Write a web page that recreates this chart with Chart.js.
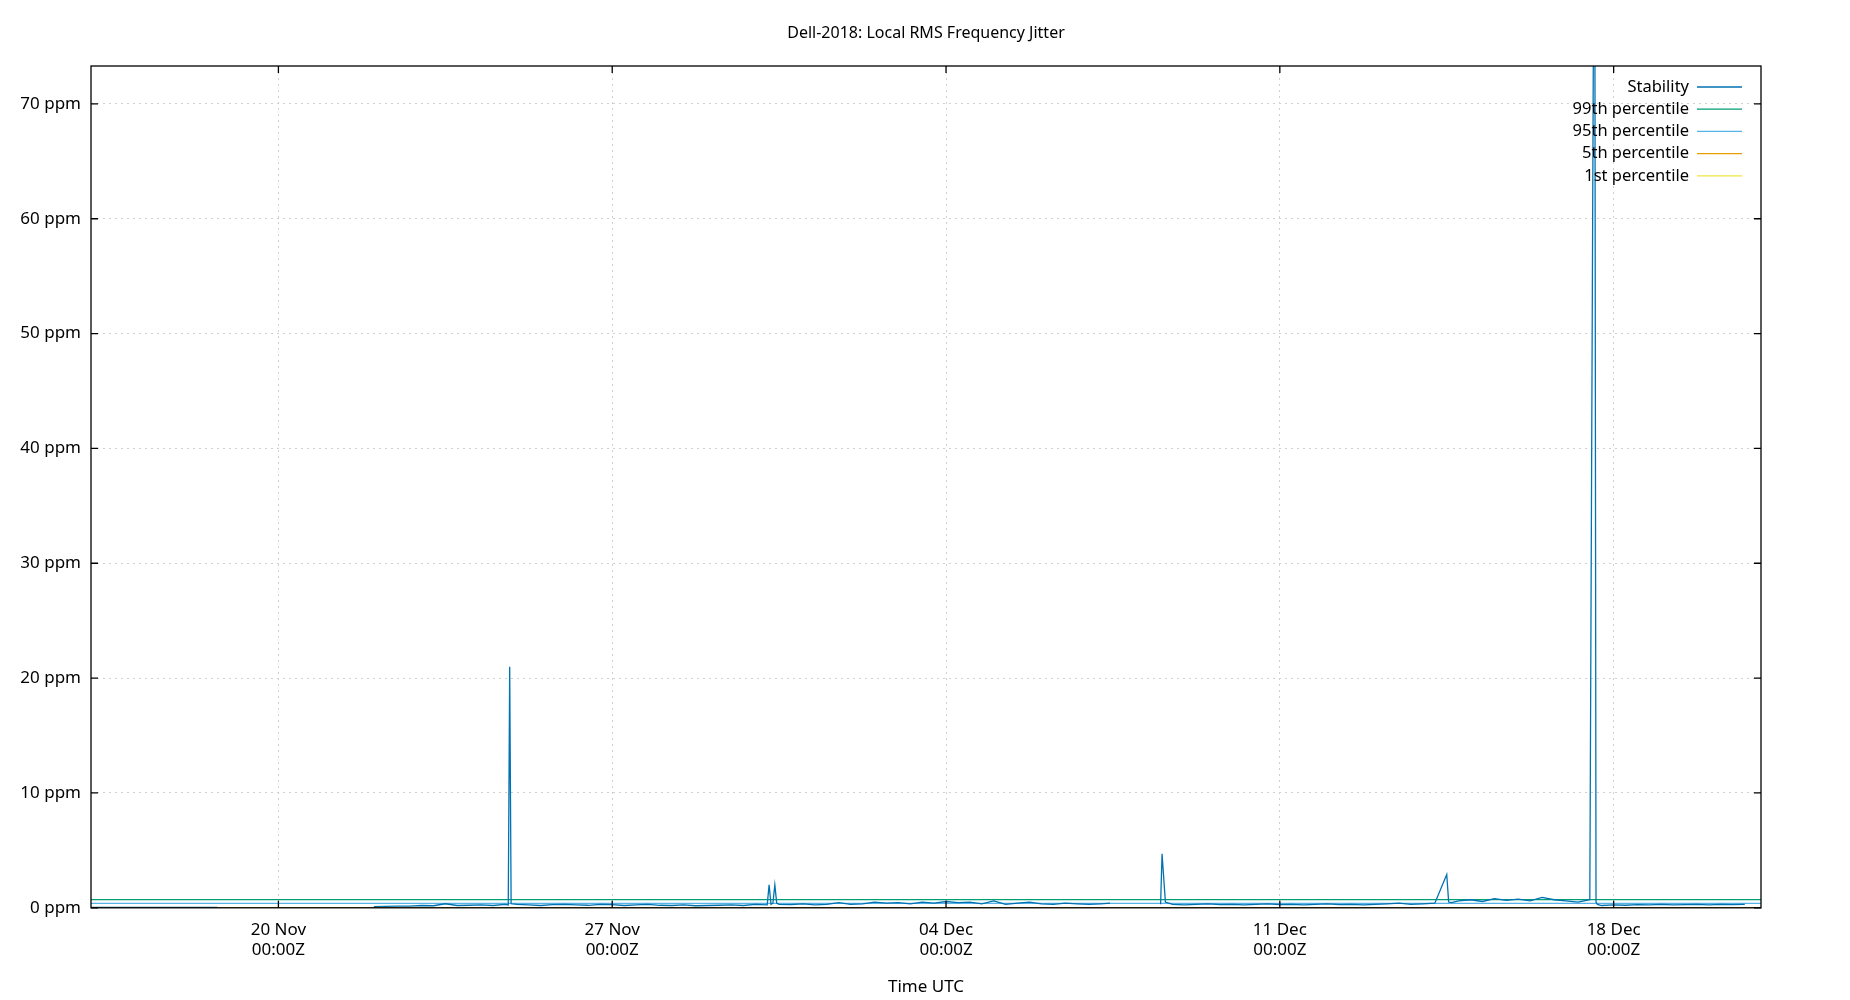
<!DOCTYPE html>
<html><head><meta charset="utf-8">
<script src="https://cdn.jsdelivr.net/npm/chart.js@4"></script>
<style>html,body{margin:0;padding:0;background:#fff}#w{width:1850px;height:1000px}</style>
</head><body><div id="w"><canvas id="c"></canvas></div>
<script>
// x = day number where 1 Nov 00:00Z = 0
const titleText = 'Dell-2018: Local RMS Frequency Jitter';
const tickDays = [19, 26, 33, 40, 47];
const tickLabels = [["20 Nov","00:00Z"],["27 Nov","00:00Z"],["04 Dec","00:00Z"],["11 Dec","00:00Z"],["18 Dec","00:00Z"]];
const yTicks = [0,10,20,30,40,50,60,70];
const stabX = [15.07,15.5,16,16.5,17,17.5,17.72,17.75,
 20.95,21.0,21.25,21.5,21.75,22,22.25,22.5,22.75,23,23.25,23.5,23.75,23.82,23.85,23.88,24,24.25,24.5,24.75,25,25.25,25.5,25.75,26,26.25,26.5,26.75,27,27.25,27.5,27.75,28,28.25,28.5,28.75,29,29.25,29.29,29.33,29.37,29.41,29.45,29.5,29.75,30,30.25,30.5,30.75,31,31.25,31.5,31.75,32,32.25,32.5,32.75,33,33.25,33.5,33.75,34,34.25,34.5,34.75,35,35.25,35.5,35.75,36,36.25,36.44,36.47,
 37.5,37.53,37.6,37.75,38,38.25,38.5,38.75,39,39.25,39.5,39.75,40,40.25,40.5,40.75,41,41.25,41.5,41.75,42,42.25,42.5,42.75,43,43.25,43.5,43.54,43.6,43.75,44,44.25,44.5,44.75,45,45.25,45.5,45.75,46,46.25,46.5,46.6,46.63,46.66,46.75,47,47.25,47.5,47.75,48,48.25,48.5,48.75,49,49.25,49.5,49.75,50.09];
const stabY = [0.03,0.03,0.04,0.03,0.03,0.04,0.03,null,
 null,0.1,0.12,0.15,0.14,0.2,0.18,0.35,0.2,0.22,0.25,0.2,0.3,0.25,21,0.35,0.3,0.25,0.2,0.28,0.3,0.25,0.22,0.3,0.27,0.2,0.25,0.3,0.22,0.2,0.25,0.18,0.2,0.22,0.25,0.2,0.3,0.25,2.0,0.3,0.4,2.0,0.4,0.3,0.28,0.35,0.25,0.3,0.45,0.3,0.35,0.5,0.4,0.45,0.35,0.5,0.4,0.55,0.45,0.5,0.35,0.6,0.3,0.4,0.5,0.35,0.3,0.4,0.35,0.3,0.35,0.4,null,
 0.3,4.7,0.5,0.3,0.25,0.3,0.35,0.28,0.3,0.25,0.3,0.35,0.28,0.3,0.25,0.3,0.35,0.28,0.3,0.25,0.3,0.35,0.4,0.3,0.35,0.4,2.9,0.5,0.45,0.6,0.7,0.55,0.8,0.65,0.75,0.6,0.9,0.7,0.6,0.5,0.7,100,0.5,0.3,0.2,0.25,0.22,0.28,0.25,0.3,0.25,0.28,0.3,0.25,0.3,0.28,0.3];
const p99 = 0.72, p95 = 0.38, p5 = 0.02, p1 = 0.01;
const xMin = 15.07, xMax = 50.09, yMax = 73.3;
const names = ["Stability","99th percentile","95th percentile","5th percentile","1st percentile"];
const colors = ["#0072b2","#009e73","#56b4e9","#e69f00","#f0e442"];

const pts = stabX.map((x,i)=>({x, y: stabY[i]}));
const hl = v => [{x:xMin,y:v},{x:xMax,y:v}];
const ds = [
 {label:names[0],data:pts,borderColor:colors[0],spanGaps:false},
 {label:names[1],data:hl(p99),borderColor:colors[1]},
 {label:names[2],data:hl(p95),borderColor:colors[2]},
 {label:names[3],data:hl(p5),borderColor:colors[3]},
 {label:names[4],data:hl(p1),borderColor:colors[4]}
].map(d=>Object.assign(d,{borderWidth:1.3,pointRadius:0,tension:0,fill:false}));

const F = "'Noto Sans', 'Open Sans', sans-serif";
const frame = {
 id:'frame',
 afterDatasetsDraw(ch){
  const {ctx,chartArea:a,scales} = ch;
  ctx.save();
  ctx.strokeStyle='#000';ctx.lineWidth=1.3;
  ctx.strokeRect(a.left,a.top,a.right-a.left,a.bottom-a.top);
  ctx.beginPath();
  tickDays.forEach(d=>{const x=scales.x.getPixelForValue(d);ctx.moveTo(x,a.bottom);ctx.lineTo(x,a.bottom-7);ctx.moveTo(x,a.top);ctx.lineTo(x,a.top+7);});
  yTicks.forEach(v=>{const y=scales.y.getPixelForValue(v);ctx.moveTo(a.left,y);ctx.lineTo(a.left+7,y);ctx.moveTo(a.right,y);ctx.lineTo(a.right-7,y);});
  ctx.stroke();
  ctx.fillStyle='#000';ctx.font='16px '+F;ctx.textAlign='center';ctx.textBaseline='middle';
  ctx.fillText(titleText,(a.left+a.right)/2,33);
  ctx.font='16.5px '+F;ctx.textAlign='right';
  const le=a.right-19, ls=le-45;
  names.forEach((n,i)=>{
   const y=a.top+21+i*22.2;
   ctx.fillStyle='#000';ctx.fillText(n,ls-8,y);
   ctx.strokeStyle=colors[i];ctx.lineWidth=1.3;ctx.beginPath();ctx.moveTo(ls,y);ctx.lineTo(le,y);ctx.stroke();
  });
  ctx.restore();
 }
};
new Chart(document.getElementById('c'),{
 type:'line',
 data:{datasets:ds},
 options:{
  responsive:true,maintainAspectRatio:false,animation:false,
  layout:{padding:{left:0,right:89,top:66,bottom:3}},
  plugins:{legend:{display:false},tooltip:{enabled:false},title:{display:false}},
  scales:{
   x:{type:'linear',min:xMin,max:xMax,
    afterBuildTicks(s){s.ticks=tickDays.map(v=>({value:v}));},
    ticks:{color:'#000',font:{family:F,size:17},maxRotation:0,padding:12,callback(v){const i=tickDays.indexOf(v);return i>=0?tickLabels[i]:'';}},
    grid:{color:'#d0d0d0',tickLength:0,drawTicks:false},border:{display:false,dash:[2,4]},
    title:{display:true,text:'Time UTC',color:'#000',font:{family:F,size:17},padding:{top:4,bottom:0}}},
   y:{min:0,max:yMax,
    afterBuildTicks(s){s.ticks=yTicks.map(v=>({value:v}));},
    afterFit(s){s.width=91;},
    ticks:{color:'#000',font:{family:F,size:17},padding:10,callback:v=>v+' ppm'},
    grid:{color:'#d0d0d0',drawTicks:false},border:{display:false,dash:[2,4]}}
  }
 },
 plugins:[frame]
});
</script></body></html>
